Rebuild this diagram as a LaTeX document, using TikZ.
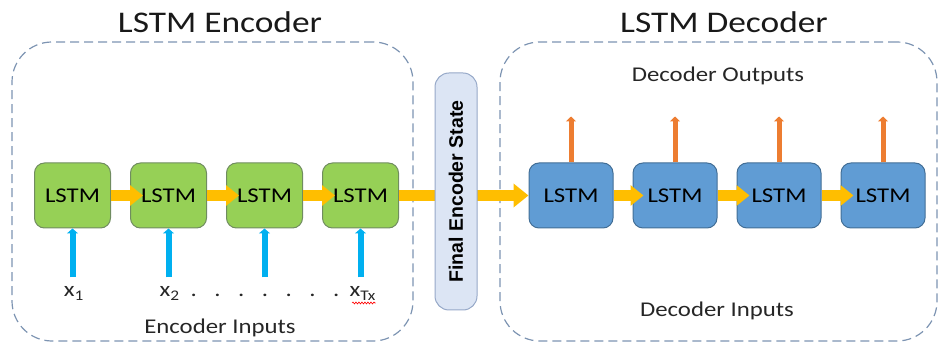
\documentclass[tikz,border=0pt]{standalone}
\usepackage{fontspec}
\setmainfont[FakeStretch=1.18]{Carlito}
\newfontfamily\statefont{Liberation Sans}
\usetikzlibrary{positioning,calc,arrows.meta,decorations.pathmorphing}
\definecolor{cellgreen}{RGB}{150,208,86}
\definecolor{greenedge}{RGB}{112,140,96}
\definecolor{cellblue}{RGB}{96,156,212}
\definecolor{blueedge}{RGB}{66,110,150}
\definecolor{stateyellow}{RGB}{255,190,0}
\definecolor{feedblue}{RGB}{0,176,240}
\definecolor{emitorange}{RGB}{237,125,49}
\definecolor{dashgray}{RGB}{125,148,178}
\definecolor{statefill}{RGB}{220,229,244}
\definecolor{stateedge}{RGB}{150,168,200}
\tikzstyle{enccell} = [draw=greenedge, fill=cellgreen, line width=1pt, rounded corners=10pt, minimum width=76pt, minimum height=65pt, font=\fontsize{21}{21}\selectfont]
\tikzstyle{deccell} = [enccell, draw=blueedge, fill=cellblue, minimum width=84pt]
\tikzstyle{group} = [draw=dashgray, line width=1.2pt, dash pattern=on 9pt off 5pt, rounded corners=40pt, inner sep=0pt]
\tikzstyle{state} = [draw=stateyellow, line width=11pt, -{Triangle[width=20pt,length=13pt]}]
\tikzstyle{feed} = [draw=feedblue, line width=6pt, -{Triangle[width=11pt,length=5pt]}]
\tikzstyle{emit} = [draw=emitorange, line width=5pt, -{Triangle[width=10pt,length=5pt]}]
\tikzstyle{caption} = [text=black!85, font=\fontsize{21}{21}\selectfont]
\tikzstyle{heading} = [text=black!90, font=\fontsize{30}{30}\selectfont]
\newcommand{\dotgap}{\hspace{17.5pt}}

\begin{document}
\begin{tikzpicture}[x=1pt, y=1pt, node distance=19pt]
\useasboundingbox (0,0) rectangle (941,345);

\node (encbox) [group, minimum width=401pt, minimum height=299pt] at (212.5,153.5) {};
\node (decbox) [group, minimum width=437pt, minimum height=299pt] at (718.5,153.5) {};
\node (enctitle) [heading] at (220,322.5) {LSTM Encoder};
\node (dectitle) [heading] at (724,322.5) {LSTM Decoder};

% encoder chain
\node (enc1) [enccell] at (72.5,149.5) {LSTM};
\node (enc2) [enccell, right=of enc1] {LSTM};
\node (enc3) [enccell, right=of enc2] {LSTM};
\node (enc4) [enccell, right=of enc3] {LSTM};
\path [state, shorten >=-13pt] (enc1) -- (enc2);
\path [state, shorten >=-13pt] (enc2) -- (enc3);
\path [state, shorten >=-13pt] (enc3) -- (enc4);

% decoder chain
\node (dec1) [deccell] at (571,149.5) {LSTM};
\node (dec2) [deccell, right=of dec1] {LSTM};
\node (dec3) [deccell, right=of dec2] {LSTM};
\node (dec4) [deccell, right=of dec3] {LSTM};
\path [state, shorten >=-11pt] (dec1) -- (dec2);
\path [state, shorten >=-13pt] (dec2) -- (dec3);
\path [state, shorten >=-13pt] (dec3) -- (dec4);

% hand-over through the final state
\path [state, -{Triangle[width=23pt,length=15pt]}] (enc4) -- (dec1);
\node (final) [draw=stateedge, fill=statefill, line width=1pt, rounded corners=14pt, rotate=90, minimum width=237pt, minimum height=42pt, font=\statefont\bfseries\fontsize{19.5}{20}\selectfont] at (456,153.5) {Final Encoder State};

% encoder inputs
\coordinate (src1) at ($(enc1.south)+(0,-49)$);
\coordinate (src2) at ($(enc2.south)+(0,-49)$);
\coordinate (src3) at ($(enc3.south)+(0,-49)$);
\coordinate (src4) at ($(enc4.south)+(0,-49)$);
\path [feed] (src1) -- (enc1);
\path [feed] (src2) -- (enc2);
\path [feed] (src3) -- (enc3);
\path [feed] (src4) -- (enc4);
\node (in1) [caption, anchor=base] at (74,48) {x\textsubscript{1}};
\node (in2) [caption, anchor=base west] at (156,48) {x\textsubscript{2}};
\node (gap) [caption, anchor=base] at (265,48) {.\dotgap.\dotgap.\dotgap.\dotgap.\dotgap.\dotgap.};
\node (inT) [caption, anchor=base west] at (346,48) {x\textsubscript{Tx}};
\draw [red, line width=0.6pt, decorate, decoration={snake, amplitude=1pt, segment length=3pt}] ($(inT.base west)+(6,-6)$) -- ($(inT.base east)+(-4,-6)$);
\node (encin) [caption, anchor=base] at (220,12) {Encoder Inputs};

% decoder outputs
\coordinate (dst1) at ($(dec1.north)+(0,46)$);
\coordinate (dst2) at ($(dec2.north)+(0,46)$);
\coordinate (dst3) at ($(dec3.north)+(0,46)$);
\coordinate (dst4) at ($(dec4.north)+(0,46)$);
\path [emit] (dec1) -- (dst1);
\path [emit] (dec2) -- (dst2);
\path [emit] (dec3) -- (dst3);
\path [emit] (dec4) -- (dst4);
\node (decout) [caption, anchor=base] at (718,263) {Decoder Outputs};
\node (decin) [caption, anchor=base] at (717,28) {Decoder Inputs};

\end{tikzpicture}
\end{document}
